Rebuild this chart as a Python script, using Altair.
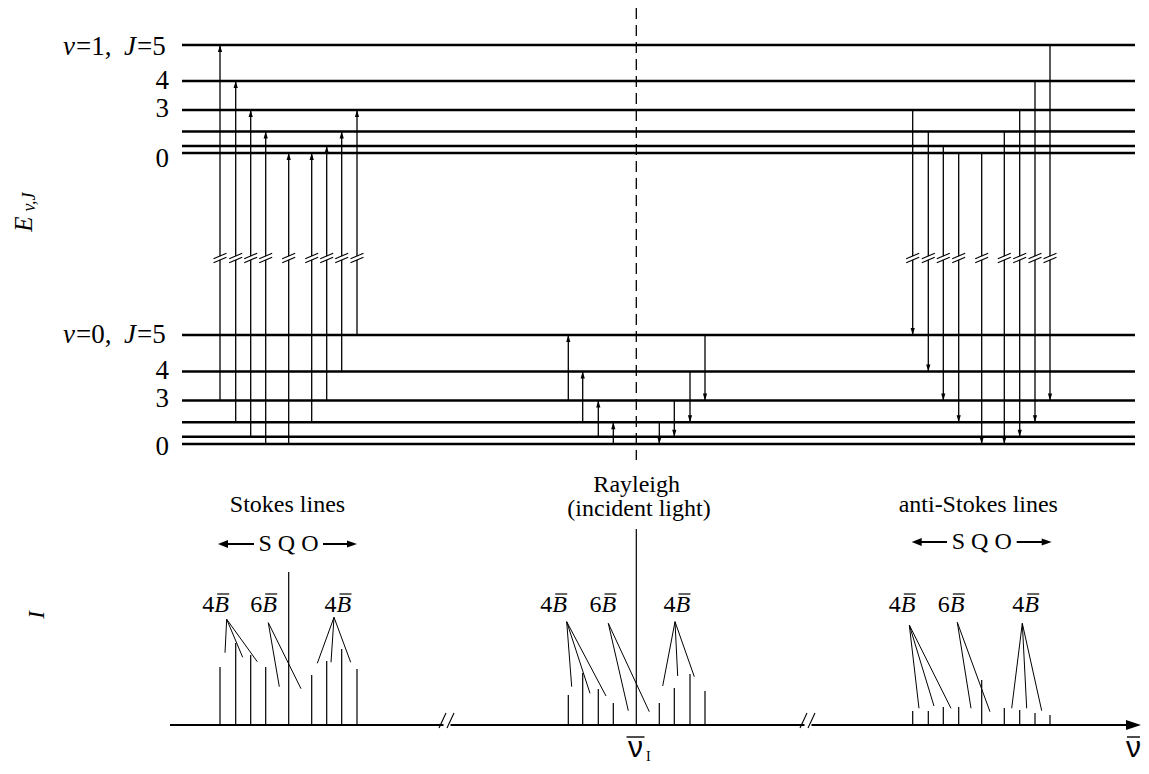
import altair as alt
import pandas as pd

# ---------------- data (diagram coordinates) ----------------
J_VALUES = [5, 4, 3, 2, 1, 0]
V1_LEVEL_Y = [45, 81, 110, 131.5, 146, 153]        # v=1 rotational levels
V0_LEVEL_Y = [335, 371.5, 400.5, 422.3, 436.7, 444]  # v=0 rotational levels
LEVEL_X = [182, 1135]

# Stokes vibration-rotation transitions (v=0 -> v=1)
STOKES_X = [220, 235.7, 250.7, 265.7, 288.7, 311.7, 326.7, 341.7, 357]
STOKES_J_FROM = [3, 2, 1, 0, 0, 2, 3, 4, 5]
STOKES_J_TO = [5, 4, 3, 2, 0, 0, 1, 2, 3]
STOKES_INTENSITY = [58, 82, 70, 58, 153, 50, 64, 76, 56]

# anti-Stokes transitions (v=1 -> v=0)
ANTI_X = [912.7, 928.3, 943.3, 958.7, 981.7, 1004.3, 1019.7, 1035, 1050]
ANTI_J_FROM = [3, 2, 1, 0, 0, 2, 3, 4, 5]
ANTI_J_TO = [5, 4, 3, 2, 0, 0, 1, 2, 3]
ANTI_INTENSITY = [14, 14, 18, 18, 45, 17, 15, 12, 10]

# pure rotational Raman transitions (within v=0)
ROT_X = [568.3, 582.7, 598.3, 613.3, 659.3, 674.3, 690, 705]
ROT_J_FROM = [3, 2, 1, 0, 2, 3, 4, 5]
ROT_J_TO = [5, 4, 3, 2, 0, 1, 2, 3]
ROT_INTENSITY = [30, 52, 36, 22, 22, 37, 51, 34]

RAYLEIGH_X = 636.3
RAYLEIGH_INTENSITY = 196
AXIS_Y = 725
BREAK_Y = 258

# spacing labels: (left x of number, number)
SPACING_LABELS = [
    (202.2, "4"), (250.2, "6"), (324.5, "4"),
    (540.2, "4"), (589.5, "6"), (663.5, "4"),
    (888.8, "4"), (937.8, "6"), (1012.2, "4"),
]
# leader lines: apex, then end points
LEADERS = [
    ((226.7, 619.3), [(225, 652.7), (242.7, 657.3), (257.3, 661.7)]),
    ((268.3, 622.7), [(279.3, 686.7), (301, 688.7)]),
    ((334, 617.3), [(317.3, 663.3), (331, 662.3), (350.7, 662.3)]),
    ((566.7, 621.7), [(571.7, 686.7), (590, 693.3), (606, 696)]),
    ((608.3, 623.3), [(628.3, 710.7), (649.3, 711.7)]),
    ((675, 621.7), [(662.7, 686), (677.7, 676), (694.3, 676.7)]),
    ((909.3, 625), [(919, 708.3), (934, 706), (951, 708.3)]),
    ((957.3, 622.3), [(971, 708.3), (990, 711.7)]),
    ((1022.3, 623.3), [(1011.7, 708.3), (1026.7, 708.3), (1041.7, 710.7)]),
]

# ---------------- helpers ----------------
W, H = 1133, 758
XS = alt.Scale(domain=[8, 8 + W], nice=False, zero=False)
YS = alt.Scale(domain=[8, 8 + H], nice=False, zero=False, reverse=True)


def lv(v, j):
    return (V1_LEVEL_Y if v == 1 else V0_LEVEL_Y)[J_VALUES.index(j)]


def xy():
    return dict(x=alt.X("x:Q", scale=XS, axis=None), y=alt.Y("y:Q", scale=YS, axis=None))


def rules(rows, width, color="black", dash=None, cap="butt"):
    df = pd.DataFrame(rows, columns=["x", "y", "x2", "y2"])
    kw = dict(strokeWidth=width, color=color, strokeCap=cap)
    if dash:
        kw["strokeDash"] = dash
    return alt.Chart(df).mark_rule(**kw).encode(x2="x2:Q", y2="y2:Q", **xy())


def heads(rows, shape, size):
    df = pd.DataFrame(rows, columns=["x", "y"])
    return alt.Chart(df).mark_point(shape=shape, size=size, filled=True, color="black",
                                    opacity=1, strokeWidth=0).encode(**xy())


def texts(rows, **kw):
    df = pd.DataFrame(rows, columns=["x", "y", "text"])
    base = dict(font="Liberation Serif", color="black", fontSize=24,
                align="center", baseline="middle")
    base.update(kw)
    return alt.Chart(df).mark_text(**base).encode(text="text:N", **xy())


UP = "M0,0L0.3,1L-0.3,1Z"
DOWN = "M0,0L0.3,-1L-0.3,-1Z"
RIGHT = "M0,0L-1,-0.34L-1,0.34Z"
LEFT = "M0,0L1,-0.4L1,0.4Z"

layers = []

# energy levels
lev_rows = [(LEVEL_X[0], y, LEVEL_X[1], y) for y in V1_LEVEL_Y + V0_LEVEL_Y]
layers.append(rules(lev_rows, 2.6))

# transitions
tr_rows, up_heads, down_heads = [], [], []
for x, jf, jt in zip(STOKES_X, STOKES_J_FROM, STOKES_J_TO):
    tr_rows.append((x, lv(0, jf), x, lv(1, jt)))
    up_heads.append((x, lv(1, jt)))
for x, jf, jt in zip(ANTI_X, ANTI_J_FROM, ANTI_J_TO):
    tr_rows.append((x, lv(1, jf), x, lv(0, jt)))
    down_heads.append((x, lv(0, jt)))
for x, jf, jt in zip(ROT_X, ROT_J_FROM, ROT_J_TO):
    tr_rows.append((x, lv(0, jf), x, lv(0, jt)))
    if jt > jf:
        up_heads.append((x, lv(0, jt)))
    else:
        down_heads.append((x, lv(0, jt)))
layers.append(rules(tr_rows, 1.3))

# break marks on vibrational transitions
gap_rows, slash_rows = [], []
for x in STOKES_X + ANTI_X:
    gap_rows.append((x, BREAK_Y - 1.8, x, BREAK_Y + 1.8))
    for d in (-2.0, 2.0):
        slash_rows.append((x - 6.5, BREAK_Y + d + 2.8, x + 6.5, BREAK_Y + d - 2.8))
layers.append(rules(gap_rows, 3, color="white"))
layers.append(rules(slash_rows, 1.1))

layers.append(heads(up_heads, UP, 196))
layers.append(heads(down_heads, DOWN, 196))

# dashed Rayleigh guide
layers.append(rules([(RAYLEIGH_X, 8, RAYLEIGH_X, 460)], 1.3, dash=[11, 6]))

# spectrum axis
layers.append(rules([(170, AXIS_Y, 1131, AXIS_Y)], 2.2))
layers.append(heads([(1141, AXIS_Y)], RIGHT, 900))
axis_gap, axis_slash = [], []
for bx in (447, 808):
    axis_gap.append((bx - 3.5, AXIS_Y, bx + 3.5, AXIS_Y))
    axis_slash.append((bx - 8, AXIS_Y + 3, bx - 1, AXIS_Y - 12))
    axis_slash.append((bx + 0, AXIS_Y + 3, bx + 7, AXIS_Y - 12))
layers.append(rules(axis_gap, 4, color="white"))
layers.append(rules(axis_slash, 1.1))

# spectral lines
spec_rows = []
for xs_, ints in ((STOKES_X, STOKES_INTENSITY), (ANTI_X, ANTI_INTENSITY), (ROT_X, ROT_INTENSITY)):
    for x, i in zip(xs_, ints):
        spec_rows.append((x, AXIS_Y, x, AXIS_Y - i))
spec_rows.append((RAYLEIGH_X, AXIS_Y, RAYLEIGH_X, AXIS_Y - RAYLEIGH_INTENSITY))
layers.append(rules(spec_rows, 1.2))

# leaders
lead_rows = []
for (ax, ay), ends in LEADERS:
    for ex, ey in ends:
        lead_rows.append((ax, ay, ex, ey))
layers.append(rules(lead_rows, 1.0))

# spacing labels  nB̄
num_rows, b_rows, bar_rows = [], [], []
for lx, n in SPACING_LABELS:
    num_rows.append((lx, 611.5, n))
    b_rows.append((lx + 12, 611.5, "B"))
    bar_rows.append((lx + 15, 594, lx + 27, 594))
layers.append(texts(num_rows, align="left", baseline="alphabetic"))
layers.append(texts(b_rows, align="left", baseline="alphabetic", fontStyle="italic"))
layers.append(rules(bar_rows, 1.2))

# S Q O arrows
for cx, cy, l0, l1, r0, r1 in ((288.5, 544, 218, 254, 323, 357),
                               (981.7, 542, 911.7, 947, 1016.7, 1051.7)):
    layers.append(texts([(cx, cy, "S Q O")]))
    layers.append(rules([(l0 + 8, cy, l1, cy), (r0, cy, r1 - 8, cy)], 2.0))
    layers.append(heads([(l0, cy)], LEFT, 400))
    layers.append(heads([(r1, cy)], RIGHT, 400))

# section titles
layers.append(texts([(287.5, 505, "Stokes lines"), (978.3, 505, "anti-Stokes lines"),
                     (636.7, 485, "Rayleigh"), (639, 509, "(incident light)")]))

# level labels
layers.append(texts([(169, 89.3, "4"), (169, 116.7, "3"), (169, 166.7, "0"),
                     (169, 379.3, "4"), (169, 407.3, "3"), (169, 455, "0")],
                    fontSize=27, align="right", baseline="alphabetic"))
for by, vtxt in ((55, "=1,"), (343.3, "=0,")):
    layers.append(texts([(63, by, "v"), (124, by, "J")], fontSize=27, align="left",
                        baseline="alphabetic", fontStyle="italic"))
    layers.append(texts([(76, by, vtxt), (137, by, "=5")], fontSize=27, align="left",
                        baseline="alphabetic"))

# axis titles
layers.append(texts([(24, 224, "E")], fontSize=25, fontStyle="italic", angle=270))
layers.append(texts([(30, 202, "v,J")], fontSize=18, fontStyle="italic", angle=270))
layers.append(texts([(37, 615, "I")], fontSize=23, fontStyle="italic", angle=270))

# wavenumber labels
layers.append(texts([(635.5, 757, "ν")], font="Liberation Sans",
                    fontSize=30, baseline="alphabetic"))
layers.append(texts([(1141, 757, "ν")], font="Liberation Sans",
                    fontSize=30, baseline="alphabetic", align="right"))
layers.append(rules([(626.5, 737, 644.5, 737), (1127, 737, 1140, 737)], 1.4))
layers.append(texts([(646, 761, "I")], fontSize=14, align="left", baseline="alphabetic"))

chart = alt.layer(*layers).properties(
    width=W, height=H, padding=0, autosize="none", background="white"
).configure_view(stroke=None)

chart.save("out.html", embed_options={"renderer": "svg", "actions": False})
